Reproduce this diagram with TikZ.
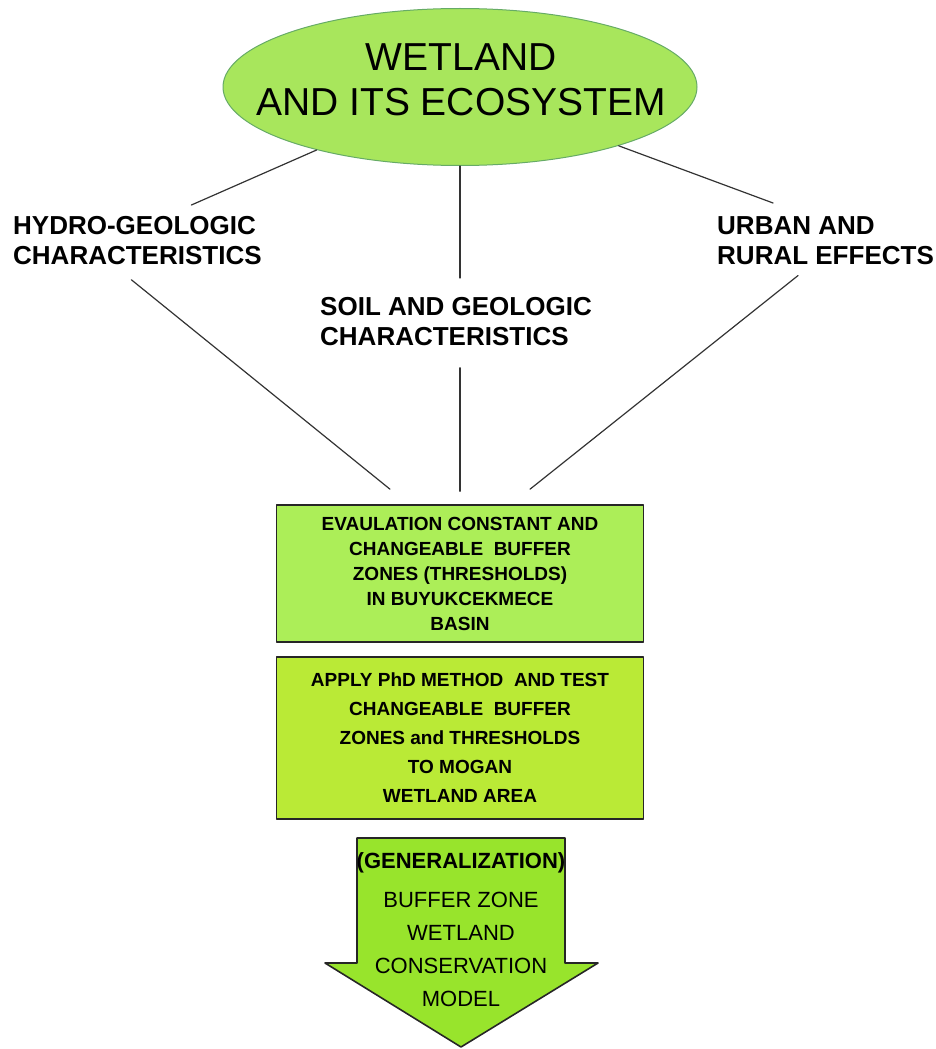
\documentclass[tikz,border=0pt]{standalone}
\usepackage{fontspec}
\setmainfont{Liberation Sans}
\usetikzlibrary{shapes.geometric}
\definecolor{ecogreen}{RGB}{168,230,92}
\definecolor{evalgreen}{RGB}{172,238,88}
\definecolor{applygreen}{RGB}{186,234,54}
\definecolor{modelgreen}{RGB}{152,228,44}
\begin{document}
\begin{tikzpicture}[x=1pt,y=1pt,line join=round,line cap=round,
    link/.style={draw=black!80,line width=1.2pt},
    factor/.style={anchor=north west,inner sep=0pt,align=left,font=\bfseries\fontsize{26}{30}\selectfont},
    stagebox/.style={draw=black!85,line width=1.6pt,minimum width=367pt,inner sep=0pt,align=center}]
    \def\w{936} \def\h{1049}
    \useasboundingbox (0,0) rectangle (\w,-\h);
    % ellipse on top
    \node[ellipse,draw=black!55!green!60,line width=1pt,fill=ecogreen,minimum width=474pt,minimum height=157pt,inner sep=0pt] (eco) at (460,-87) {};
    \node[align=center,inner sep=0pt,font=\fontsize{39}{45}\selectfont] (ecotitle) at (461,-80) {WETLAND\\AND ITS ECOSYSTEM};
    % three factors
    \node[factor] (hydro) at (13,-216) {HYDRO-GEOLOGIC\\CHARACTERISTICS};
    \node[factor] (soil) at (320,-297) {SOIL AND GEOLOGIC\\CHARACTERISTICS};
    \node[factor] (urban) at (717,-216) {URBAN AND\\RURAL EFFECTS};
    % boxes
    \node[stagebox,fill=evalgreen,minimum height=137pt,font=\bfseries\fontsize{19}{25}\selectfont] (eval) at (460,-573.5)
        {EVAULATION CONSTANT AND\\CHANGEABLE\ \ BUFFER\\ZONES (THRESHOLDS)\\IN BUYUKCEKMECE\\BASIN};
    \node[stagebox,fill=applygreen,minimum height=162pt,font=\bfseries\fontsize{19}{29}\selectfont] (apply) at (460,-738)
        {APPLY PhD METHOD\ \ AND TEST\\CHANGEABLE\ \ BUFFER\\ZONES and THRESHOLDS\\TO MOGAN\\WETLAND AREA};
    % big arrow
    \draw[draw=black!85,line width=1.6pt,fill=modelgreen] (357,-838) -- (565,-838) -- (565,-963) -- (598,-963)
        -- (461,-1047) -- (325,-963) -- (357,-963) -- cycle;
    \node[align=center,inner sep=0pt,font=\fontsize{22}{33}\selectfont] (model) at (461,-930)
        {\textbf{(GENERALIZATION)}\\[6pt]BUFFER ZONE\\WETLAND\\CONSERVATION\\MODEL};
    % connectors
    \draw[link] (eco) -- ([shift={(54,11)}]hydro.north);
    \draw[link] (eco) -- ([yshift=19pt]eco.south |- soil.north);
    \draw[link] (eco) -- ([shift={(-52.5,13)}]urban.north);
    \draw[link] ([shift={(-6,-15)}]hydro.south) -- ([shift={(-70,15)}]eval.north);
    \draw[link] ([yshift=-22pt]eco.south |- soil.south) -- ([yshift=13pt]eval.north);
    \draw[link] ([shift={(-27.5,-11)}]urban.south) -- ([shift={(70,15)}]eval.north);
\end{tikzpicture}
\end{document}
